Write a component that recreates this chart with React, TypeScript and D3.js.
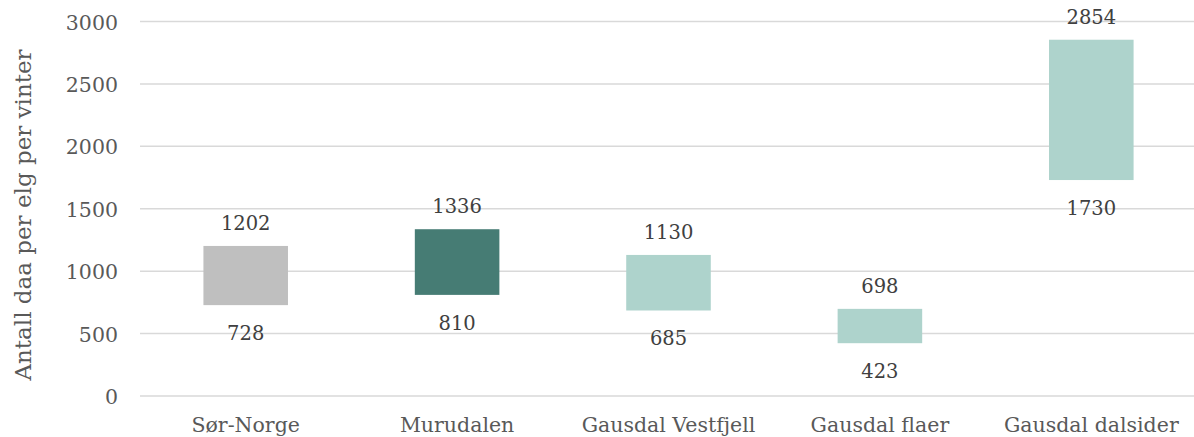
import { useEffect, useRef } from 'react';
import * as d3 from 'd3';

const categories = ['Sør-Norge', 'Murudalen', 'Gausdal Vestfjell', 'Gausdal flaer', 'Gausdal dalsider'];
const lowValues = [728, 810, 685, 423, 1730];
const highValues = [1202, 1336, 1130, 698, 2854];
const barColors = ['#bfbfbf', '#467c74', '#aed3cc', '#aed3cc', '#aed3cc'];
const yTicks = [0, 500, 1000, 1500, 2000, 2500, 3000];
const yTitle = 'Antall daa per elg per vinter';

export default function App() {
  const ref = useRef<SVGSVGElement>(null);

  useEffect(() => {
    if (!ref.current) return;
    const W = 1194, H = 437;
    const font = 'DejaVu Serif, serif';
    const svg = d3.select(ref.current).attr('width', W).attr('height', H);
    svg.selectAll('*').remove();

    const x = d3.scaleBand().domain(categories).range([140, 1197]).paddingInner(0.6).paddingOuter(0.3);
    const y = d3.scaleLinear().domain([0, 3000]).range([396, 21.5]);

    // gridlines + tick labels
    yTicks.forEach(t => {
      svg.append('line').attr('x1', 140).attr('x2', 1194).attr('y1', y(t)).attr('y2', y(t))
        .attr('stroke', '#d9d9d9').attr('stroke-width', 1.5);
      svg.append('text').attr('x', 118).attr('y', y(t) + 1).attr('text-anchor', 'end')
        .attr('dominant-baseline', 'central').attr('font-family', font).attr('font-size', 20.5)
        .attr('fill', '#595959').text(t);
    });

    svg.append('text').attr('transform', 'translate(31,215) rotate(-90)').attr('text-anchor', 'middle')
      .attr('font-family', font).attr('font-size', 23).attr('fill', '#595959').text(yTitle);

    categories.forEach((c, i) => {
      const x0 = x(c)!, bw = x.bandwidth(), cx = x0 + bw / 2;
      const top = y(highValues[i]), bot = y(lowValues[i]);
      svg.append('rect').attr('x', x0).attr('y', top).attr('width', bw).attr('height', bot - top)
        .attr('fill', barColors[i]);
      svg.append('text').attr('x', cx).attr('y', top - 16).attr('text-anchor', 'middle')
        .attr('font-family', font).attr('font-size', 19.5).attr('fill', '#404040').text(highValues[i]);
      svg.append('text').attr('x', cx).attr('y', bot + 35).attr('text-anchor', 'middle')
        .attr('font-family', font).attr('font-size', 19.5).attr('fill', '#404040').text(lowValues[i]);
      svg.append('text').attr('x', cx).attr('y', 432).attr('text-anchor', 'middle')
        .attr('font-family', font).attr('font-size', 20.5).attr('fill', '#595959').text(c);
    });
  }, []);

  return <svg ref={ref} style={{ position: 'absolute', left: 0, top: 0 }} />;
}
